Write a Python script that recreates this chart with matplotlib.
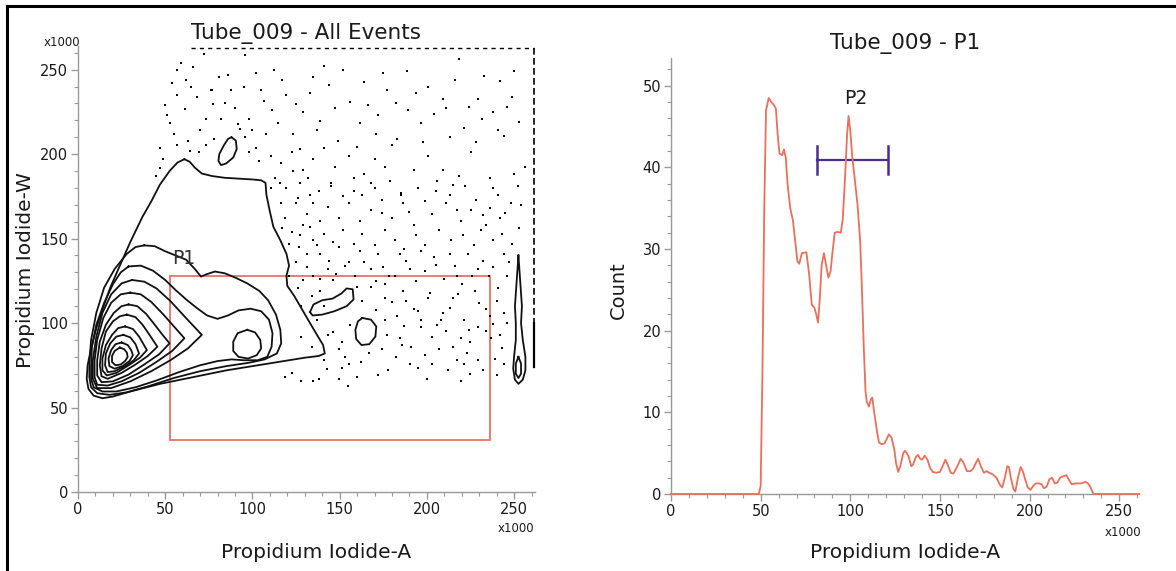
import matplotlib
matplotlib.use("Agg")
import matplotlib.pyplot as plt
from matplotlib.lines import Line2D
from matplotlib.ticker import MultipleLocator

plt.rcParams['font.family'] = ['DejaVu Sans']

# ---------------- data: left panel (Propidium Iodide-A vs -W, x1000) ----------------
c1_x = [61, 64, 67, 71, 77, 84, 92, 100, 105, 107.5, 108, 110, 112, 116, 119.5, 121, 119.5, 120, 124, 128.5, 133, 137, 140.5, 141.5, 138, 130, 115, 100, 85, 66, 47, 30, 20, 14, 9, 6, 5, 5.5, 7.5, 10.5, 14, 18.5, 24, 30, 37, 42, 47, 52.5, 57, 61]
c1_y = [197, 195.5, 192, 188.5, 187, 186, 185.5, 185, 184.5, 183, 176, 166, 157, 149, 141, 134, 128, 122, 116, 108, 100, 93, 87, 82, 80.5, 79.5, 77, 74.5, 72, 68, 64, 59.5, 56.5, 55.5, 57, 61, 67, 75, 85, 97, 108, 121, 134, 148, 163, 172, 182, 190, 195, 197]

c2_x = [38, 44, 50, 56, 62, 67, 70.5, 74, 78.5, 84, 90, 97, 104, 109, 113.5, 116, 116.5, 114, 107, 98, 85, 70, 55, 40, 28, 18, 11, 7.5, 6.5, 6.5, 7.5, 10.5, 15, 21, 28, 33, 38]
c2_y = [146, 145.5, 142.5, 140, 137.5, 132, 127.5, 129, 130.5, 129.5, 127, 123.5, 119, 113.5, 105, 96, 88, 82, 78.5, 76.5, 74.5, 71.5, 67.5, 62.5, 59, 57.5, 58.5, 62, 68, 76, 90, 106, 121, 132, 141, 145, 146]

c3_x = [29, 36, 43, 50, 56, 62, 68, 74, 80, 86, 92, 99, 105, 109.5, 111.5, 111, 108.5, 103, 95, 88, 80, 70, 58, 45, 33, 22, 14, 9, 7.5, 7.5, 8, 10.5, 15, 20, 24.5, 29]
c3_y = [133.5, 134, 131, 125.5, 119.5, 114, 109, 104.5, 102.5, 104.5, 107.5, 108.5, 107, 102, 94, 86, 80, 78, 78, 78.5, 77.5, 75, 71, 66, 62, 59.5, 59.5, 62, 67, 74, 86, 99, 112, 123, 130, 133.5]

c4_x = [31, 38, 45, 53, 61, 71, 63, 53, 42, 30, 19, 11, 8.5, 8.5, 10.5, 14, 19, 25, 31]
c4_y = [125.5, 124.5, 120.5, 113, 104, 93, 85, 78, 71.5, 65.5, 61.5, 61.5, 67, 78, 92, 106, 117, 123.5, 125.5]

c5_x = [30, 36, 42, 49, 55, 61, 54, 45, 35, 25, 17, 11, 9.5, 9.5, 11, 14.5, 19, 24.5, 30]
c5_y = [118, 117, 112.5, 105, 98, 91, 83.5, 77, 70.5, 65.5, 63, 63.5, 68, 78, 90, 103, 112, 117, 118]

c6_x = [29, 34, 39, 44, 48.5, 52.5, 46.5, 38, 29, 20, 13.5, 11, 11, 12.5, 16, 20.5, 25, 29]
c6_y = [111, 110, 105.5, 99, 93, 88, 81.5, 75.5, 69.5, 65.5, 65, 69, 78, 89, 99, 106, 110, 111]

c7_x = [28, 33, 37, 41, 45.5, 40, 33, 25, 17, 13.5, 12.5, 13.5, 16, 20, 24, 28]
c7_y = [105, 103.5, 99, 93, 86, 80.5, 75.5, 70.5, 67, 68.5, 75, 85, 95, 101, 104, 105]

c8_x = [27, 31.5, 35, 39.5, 35.5, 29, 22, 16.5, 14, 14, 16, 19.5, 23, 27]
c8_y = [98, 96.5, 92, 84, 79.5, 75, 70.5, 69, 72, 79, 87, 93, 97, 98]

c9_x = [26, 30, 33, 35, 32, 27, 21, 17, 15.5, 16, 18.5, 22, 26]
c9_y = [93, 91.5, 87.5, 82, 78, 74.5, 71.5, 71, 75, 82, 88, 92, 93]

c10_x = [25, 28.5, 30.5, 31.5, 29.5, 25.5, 21, 18, 17.5, 19, 21.5, 25]
c10_y = [88.5, 87, 84, 81, 77.5, 74.5, 73, 74.5, 79, 84, 87.5, 88.5]

c11_x = [24, 26.5, 28, 28.5, 27, 24.5, 21.5, 19.5, 19.5, 21, 24]
c11_y = [85.5, 84.5, 82.5, 80, 77.5, 75.5, 75, 77, 80.5, 83.5, 85.5]

peak2_x = [97, 101.5, 104.5, 105, 102.5, 97.5, 92, 89, 89, 91.5, 97]
peak2_y = [96, 94.5, 90, 85, 81, 79, 80, 83.5, 89, 94, 96]

islandA_x = [88, 90.5, 91, 89, 85, 82, 80.5, 81, 83.5, 86, 88]
islandA_y = [210, 208, 203, 198, 194.5, 193.5, 196, 200, 205, 209, 210]

islandB_x = [133, 135, 140, 146, 151, 154, 157.5, 158, 154, 147, 140, 134.5, 133]
islandB_y = [106.5, 111, 113.5, 114.5, 117.5, 120.5, 120, 114, 110, 107, 105, 104.5, 106.5]

islandC_x = [163, 168, 171, 170.5, 167, 162.5, 159.5, 159, 160.5, 163]
islandC_y = [103, 102, 98, 92, 87.5, 87, 90.5, 96, 101, 103]

spindle_x = [252.5, 253.5, 254.5, 254, 255, 256.5, 256.5, 255, 252.5, 250.5, 249.5, 250, 251, 251, 250.5, 251.5, 252.5]
spindle_y = [140, 125, 110, 100, 90, 80, 72, 66.5, 64, 66.5, 73, 80, 90, 100, 110, 125, 140]
spindle_in_x = [252.5, 254, 254, 252.5, 251, 251, 252.5]
spindle_in_y = [80, 76, 70, 67.5, 70, 76, 80]

dots_x = [59, 66, 72.5, 81, 86, 96, 102, 112.5, 119, 125, 135, 141, 152, 164, 175, 188.5, 200.8, 209, 218.3, 229.6, 242, 246, 250,
          51, 53, 57, 61.2, 68.4, 73.5, 77.6, 81.7, 90, 98, 106.4, 114.6, 129, 139, 147.4, 161.8, 172, 182.3, 196.7, 211, 221.4, 231.6, 240.9,
          46.8, 49, 57, 63.2, 69.4, 73.5, 96, 98, 102.3, 110.5, 116.6, 122.8, 129, 135, 141, 147.4, 155.6, 164, 170, 176, 180.3, 192.6, 200.8, 209, 218.3, 225.5, 237.8, 250, 256,
          110.5, 116.6, 118.7, 124.8, 131, 129, 135, 139, 143.3, 149.5, 155.6, 161.8, 168, 174, 180.3, 186.4, 192.6, 202.9, 211, 219.3, 225.5, 233.7, 242, 248,
          122.8, 126.9, 124.8, 131, 135, 139, 143.3, 149.5, 155.6, 161.8, 168, 172, 178.2, 184.4, 190.5, 196.7, 205, 213.1, 217.2, 223.4, 229.6, 235.7, 244, 246,
          129, 135, 139, 146.4, 159.8, 168, 176.2, 180.3, 186.4, 192.6, 196.7, 200.8, 209, 215.2, 221.4, 227.6, 233.7, 237.8, 244, 242,
          137.2, 143.3, 151.6, 176.2, 184.4, 196.7, 211, 219.3, 229.6, 233.7,
          141.3, 149.5, 155.6, 174, 182.3, 190.5, 194.7, 207, 217.2, 229.6, 238.8, 135, 122.8, 149.5, 172, 219.3, 221.4, 138.2, 202.9, 118.7, 151.6, 159.8,
          44.8, 46.8, 88, 93, 108, 116, 127, 133, 145, 158, 170, 185, 205, 215, 236, 77, 65, 54, 104, 123,
          105, 111, 117, 123, 127, 133, 137, 144, 149, 156, 160, 166, 171, 177, 183, 189, 194, 198, 204, 213, 216, 224, 228, 233, 238, 244, 249, 253,
          113, 119, 126, 132, 138, 145, 152, 158, 163, 168, 174, 179, 185, 190, 195, 199, 206, 213, 217, 222, 228, 232, 236, 241, 245, 252, 254,
          117, 121, 127, 133, 137, 141, 146, 152, 158, 163, 170, 176, 182, 187, 194, 199, 207, 214, 221, 227, 231, 238, 243, 249, 253,
          121, 126, 131, 139, 144, 148, 153, 159, 164, 171, 175, 182, 188, 194, 199, 204, 210, 216, 220, 226, 232, 238, 241, 247,
          128, 134, 141, 163, 171, 176, 183, 188, 195, 202, 206, 213, 218, 224, 230, 236, 240, 246,
          128, 134, 146, 156, 177, 187, 191, 203, 208, 215, 225, 237, 243,
          143, 153, 162, 167, 178, 186, 199, 212, 223, 232, 240, 128, 155, 200, 225, 244,
          55, 62, 70, 76, 84, 92, 95, 100, 64, 78, 50, 57]
dots_y = [254, 251.5, 259, 245.7, 247, 258.7, 247.8, 250, 235, 229.4, 245.7, 252, 250, 242.4, 247.8, 249, 240, 232.7, 256.5, 232.7, 243.5, 228, 249,
          223, 218.6, 234.8, 227, 233.8, 220.8, 229.4, 220.8, 227.3, 220.8, 231.6, 218.6, 225, 219.7, 227.3, 218.6, 223, 230.5, 218.6, 227.3, 215.4, 220.8, 214.3,
          203.5, 197, 205.6, 207.8, 201.3, 205.6, 210, 201.3, 203.5, 199, 194.8, 201.3, 190.5, 197, 203.5, 192.6, 199, 188.3, 197, 192.6, 205.6, 190.5, 199, 190.5, 187.2, 201.3, 179.7, 188.3, 192.6,
          179.7, 171, 162.3, 171, 164.5, 158, 171, 160.2, 168.8, 162.3, 171, 160.2, 166.7, 173, 162.3, 171, 158, 164.5, 171, 160.2, 166.7, 158, 162.3, 171,
          153.7, 145, 136.4, 140.7, 149.4, 140.7, 132, 145, 136.4, 142.9, 132, 140.7, 127.7, 140.7, 132, 142.9, 134.2, 140.7, 127.7, 140.7, 132, 127.7, 140.7, 127.7,
          125.5, 127.7, 119, 125.5, 121.2, 121.2, 123.4, 112.6, 119, 108.2, 101.7, 114.7, 106, 114.7, 101.7, 119, 108.2, 99.6, 106, 93,
          101.7, 93, 88.7, 101.7, 91, 97.4, 95.2, 91, 97.4, 95.2,
          78, 84.4, 75.8, 84.4, 80, 75.8, 73.6, 84.4, 78, 78, 79, 66, 70.3, 67.1, 69.3, 66, 75.8, 67.1, 75.8, 68.2, 73.6, 68.2,
          187, 191.5, 238, 215, 212, 183, 183, 176, 181, 178, 180, 176, 178, 182, 168, 238, 240, 242, 196, 190,
          238, 226, 244, 212, 203, 236, 214, 241, 208, 231, 204, 229, 212, 238, 209, 226, 236, 207, 224, 210, 244, 228, 207, 246, 225, 211, 234, 219,
          186, 180, 174, 186, 178, 183, 175, 186, 176, 183, 165, 184, 177, 166, 180, 172, 184, 176, 167, 181, 173, 164, 186, 176, 165, 181, 170,
          156, 147, 152, 157, 146, 153, 148, 155, 147, 153, 146, 155, 149, 144, 152, 146, 155, 149, 152, 146, 155, 149, 153, 147, 156,
          128, 121, 133, 126, 137, 129, 134, 128, 136, 125, 133, 128, 137, 125, 131, 139, 126, 134, 123, 128, 137, 133, 121, 136,
          110, 116, 110, 113, 108, 115, 104, 113, 107, 118, 99, 109, 117, 96, 112, 104, 113, 100,
          92, 86, 95, 99, 93, 98, 86, 92, 102, 86, 89, 91, 85,
          73, 80, 77, 82, 72, 87, 81, 72, 82, 72, 69, 66, 63, 67, 70, 76,
          212, 244, 214, 238, 230, 218, 240, 214, 202, 209, 229, 250]

top_edge_x = [65, 261.5]
top_edge_y = [263, 263]
right_edge_x = [261.5, 261.5]
right_edge_y = [263, 100]
right_solid_x = [261.5, 261.5]
right_solid_y = [100, 74]

gate_p1_x = [53, 236]
gate_p1_y = [31, 128]

# ---------------- data: right panel histogram ----------------
hist_x = [0, 49, 50, 51, 52, 53, 54.5, 56, 57.5, 58.5, 59.5, 60.5, 62, 63, 64, 65, 66.5, 68, 69, 70.5, 71.5, 73, 75.5, 77, 78.5, 80, 81, 82,
          83, 84, 85.3, 86.5, 87.8, 89, 90, 91.3, 93, 94.7, 95.8, 97, 98.2, 99, 100, 101, 102.5, 104, 105.5, 106.5, 107.5, 108.5, 109.2,
          110.3, 111.5, 112.3, 113, 114, 115, 116, 117.5, 119, 120, 121.5, 123, 124.5, 125.5, 126.7, 128, 129.5, 130.5, 131.5, 132.5, 134,
          135, 136.5, 137.7, 139, 140, 141.5, 143, 144.5, 146, 148, 150, 151.5, 153, 154.5, 156, 157.5, 159.5, 161.5, 163, 165, 167, 168.5,
          170, 171.3, 173, 174.5, 176, 177.5, 179.5, 181.5, 183.5, 184.7, 186, 187.5, 188.5, 189.5, 191, 192, 193.5, 195, 196.2, 197.5, 199,
          200.5, 202, 203.5, 205, 206.7, 208, 209.5, 211, 212.5, 214, 215.5, 217, 219, 220.5, 222, 223.5, 226, 229, 231, 232.5, 234, 235.6,
          237, 261]
hist_y = [0, 0, 1, 15, 35, 47, 48.5, 48, 47.6, 47.2, 44, 41.7, 41.5, 42.2, 41.2, 38, 35, 33.5, 31.5, 28.5, 28.2, 29.5, 29.6, 27, 23.2, 22.8, 22, 21,
          24, 28, 29.5, 28, 26.5, 27.3, 29.5, 32, 32.1, 32, 33.7, 38.5, 44, 46.3, 44.5, 41.5, 38.5, 35.5, 31, 25, 18, 12.5, 11.3,
          10.7, 11.6, 11.8, 10.5, 9, 7.5, 6.3, 6.1, 6.2, 6.6, 7.3, 6.9, 5.5, 3.8, 2.7, 3.5, 5, 5.3, 5.0, 4.6, 3.4,
          3.6, 4.5, 4.8, 4.3, 4.2, 4.7, 4.2, 3.2, 2.7, 2.6, 2.7, 3.4, 4.2, 3.5, 2.6, 2.5, 3.3, 4.3, 3.9, 2.8, 2.8, 3.1,
          3.8, 4.3, 3.3, 2.6, 2.8, 2.6, 2.4, 2.0, 1.1, 0.8, 1.8, 3.4, 3.3, 2.0, 0.6, 0.3, 2.0, 3.3, 2.8, 1.8, 0.8,
          0.5, 1.0, 1.3, 1.3, 1.2, 0.7, 0.9, 1.8, 2.0, 1.3, 1.4, 2.0, 2.2, 2.3, 1.7, 1.2, 1.3, 1.3, 1.5, 1.3, 0.8, 0.0,
          0, 0]

gate_p2_x = [81.3, 121.2]
gate_p2_y = 40.9
gate_p2_cap = 1.7

left_xticks = [0, 50, 100, 150, 200, 250]
left_yticks = [0, 50, 100, 150, 200, 250]
right_xticks = [0, 50, 100, 150, 200, 250]
right_yticks = [0, 10, 20, 30, 40, 50]

# ---------------- drawing ----------------
W, H = 1176, 571
fig = plt.figure(figsize=(W / 100, H / 100), dpi=100)
fig.patch.set_facecolor('white')

SPINE = '#9a9a9a'
TXT = '#1a1a1a'
HIST_C = '#e8705c'
GATE_C = '#e5746a'
P2_C = '#4a2d8c'


def px_axes(l, t, r, b):
    return fig.add_axes([l / W, 1 - b / H, (r - l) / W, (b - t) / H])


def style(ax):
    for s in ['top', 'right']:
        ax.spines[s].set_visible(False)
    for s in ['left', 'bottom']:
        ax.spines[s].set_color(SPINE)
        ax.spines[s].set_linewidth(1.0)
    ax.tick_params(which='major', length=5, width=1.0, color=SPINE, labelsize=10.5, labelcolor=TXT, pad=2)
    ax.tick_params(which='minor', length=3, width=0.8, color=SPINE)


# left panel
axL = px_axes(78, 46, 535, 492)
axL.set_xlim(0, 262)
axL.set_ylim(0, 264)
style(axL)
axL.set_xticks(left_xticks)
axL.set_yticks(left_yticks)
axL.xaxis.set_minor_locator(MultipleLocator(10))
axL.yaxis.set_minor_locator(MultipleLocator(10))

axL.plot(dots_x, dots_y, linestyle='none', marker='s', markersize=1.6, color='black', markeredgewidth=0)
axL.plot(top_edge_x, top_edge_y, color='black', lw=1.0, linestyle=(0, (3, 3)), clip_on=False)
axL.plot(right_edge_x, right_edge_y, color='black', lw=1.2, linestyle=(0, (4, 2)), clip_on=False)
axL.plot(right_solid_x, right_solid_y, color='black', lw=1.6, clip_on=False)

contours = [(c1_x, c1_y), (c2_x, c2_y), (c3_x, c3_y), (c4_x, c4_y), (c5_x, c5_y), (c6_x, c6_y),
            (c7_x, c7_y), (c8_x, c8_y), (c9_x, c9_y), (c10_x, c10_y), (c11_x, c11_y),
            (peak2_x, peak2_y), (islandA_x, islandA_y), (islandB_x, islandB_y), (islandC_x, islandC_y),
            (spindle_x, spindle_y), (spindle_in_x, spindle_in_y)]
for cx, cy in contours:
    axL.plot(cx, cy, color='#111111', lw=1.3, solid_joinstyle='round')

axL.add_patch(plt.Rectangle((gate_p1_x[0], gate_p1_y[0]), gate_p1_x[1] - gate_p1_x[0], gate_p1_y[1] - gate_p1_y[0],
                            fill=False, edgecolor=GATE_C, lw=1.3))
axL.text(60.5, 138.5, 'P1', fontsize=13.5, color='#333333', ha='center', va='center')

# right panel
axR = px_axes(671, 58, 1139, 494)
axR.set_xlim(0, 261)
axR.set_ylim(0, 53.4)
style(axR)
axR.set_xticks(right_xticks)
axR.set_yticks(right_yticks)
axR.xaxis.set_minor_locator(MultipleLocator(10))
axR.yaxis.set_minor_locator(MultipleLocator(2))

axR.plot(hist_x, hist_y, color=HIST_C, lw=1.3, clip_on=False, zorder=3)
axR.plot(gate_p2_x, [gate_p2_y, gate_p2_y], color=P2_C, lw=1.6)
for gx in gate_p2_x:
    axR.plot([gx, gx], [gate_p2_y - gate_p2_cap, gate_p2_y + gate_p2_cap], color=P2_C, lw=1.8)
axR.text(103.2, 48.4, 'P2', fontsize=13.5, color=TXT, ha='center', va='center')

# titles and labels (figure pixel positions)
def ftext(x, y, s, **kw):
    fig.text(x / W, 1 - y / H, s, **kw)

ftext(306, 33, 'Tube_009 - All Events', fontsize=15.5, ha='center', va='center', color=TXT)
ftext(905, 43, 'Tube_009 - P1', fontsize=15.5, ha='center', va='center', color=TXT)
ftext(316, 552, 'Propidium Iodide-A', fontsize=14.5, ha='center', va='center', color=TXT)
ftext(905, 552, 'Propidium Iodide-A', fontsize=14.5, ha='center', va='center', color=TXT)
ftext(26, 270, 'Propidium Iodide-W', fontsize=14.5, ha='center', va='center', rotation=90, color=TXT)
ftext(618, 290, 'Count', fontsize=14, ha='center', va='center', rotation=90, color=TXT)
ftext(80, 43, 'x1000', fontsize=8.5, ha='right', va='center', color=TXT)
ftext(534, 529, 'x1000', fontsize=8.5, ha='right', va='center', color=TXT)
ftext(1141, 533, 'x1000', fontsize=8.5, ha='right', va='center', color=TXT)

# outer frame (left and top edges)
fig.add_artist(Line2D([7 / W, 7 / W], [0, 1 - 6 / H], color='black', lw=2.2))
fig.add_artist(Line2D([7 / W, 1], [1 - 6 / H, 1 - 6 / H], color='black', lw=2.2))

fig.savefig('out.png', dpi=100, facecolor='white')
